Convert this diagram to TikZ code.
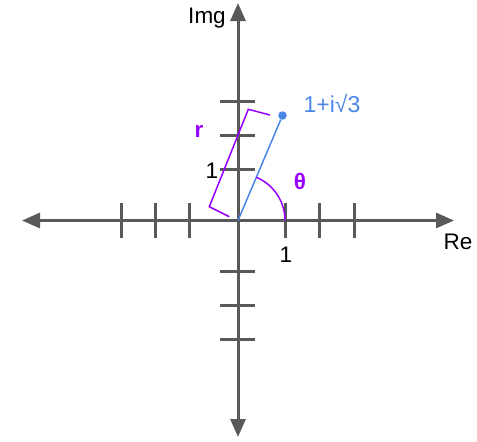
\documentclass[tikz,border=0pt]{standalone}
\usepackage{fontspec}
\setmainfont{Liberation Sans}
\usetikzlibrary{arrows.meta}
\definecolor{axisgray}{RGB}{89,89,89}
\definecolor{ptblue}{RGB}{74,134,232}
\definecolor{argpurple}{RGB}{153,0,255}

\begin{document}
\begin{tikzpicture}[x=1pt,y=-1pt,
    axis/.style={axisgray, line width=3pt, -{Triangle[length=18pt,width=15pt]}},
    axtick/.style={axisgray, line width=3pt},
    lbl/.style={inner sep=0pt, font=\fontsize{22.5}{27}\selectfont}]
    \useasboundingbox (0,0) rectangle (477,442);

    % Axes
    \coordinate (O) at (238,220.5);
    \coordinate (west) at (22,220.5);
    \coordinate (east) at (454,220.5);
    \coordinate (north) at (238,3);
    \coordinate (south) at (238,437);
    \draw[axis] (O) -- (west);
    \draw[axis] (O) -- (east);
    \draw[axis] (O) -- (north);
    \draw[axis] (O) -- (south);
    \node[lbl] (re) at (458,242) {Re};
    \node[lbl] (img) at (207,18) {Img};

    % Ticks
    \foreach \x in {121,155,189,285,319,354}
        \draw[axtick] (\x,203) -- (\x,238);
    \foreach \y in {101,135,169,271,305,339}
        \draw[axtick] (220,\y) -- (255,\y);
    \node[lbl] (one x) at (286,255) {1};
    \node[lbl] (one y) at (212,171) {1};

    % Point and modulus
    \node[circle, fill=ptblue, inner sep=0pt, minimum size=8.5pt] (P) at (282.5,115.5) {};
    \draw[ptblue, line width=1.5pt] (O) -- (P);
    \node[lbl, ptblue, font=\fontsize{23}{27}\selectfont] (z) at (332,104) {1+i√3};

    % Argument
    \draw[argpurple, line width=1.5pt] (285,220.5) arc[start angle=0, end angle=-67, radius=47];
    \node[lbl, argpurple, font=\fontsize{22.5}{27}\selectfont\bfseries] (theta) at (300,181) {θ};

    % Bracket for r
    \draw[argpurple, line width=1.5pt] (270,115) -- (248.3,109.3) -- (209.3,206.7) -- (229.3,216.7);
    \node[lbl, argpurple, font=\fontsize{22.5}{27}\selectfont\bfseries] (r) at (199,131) {r};
\end{tikzpicture}
\end{document}
